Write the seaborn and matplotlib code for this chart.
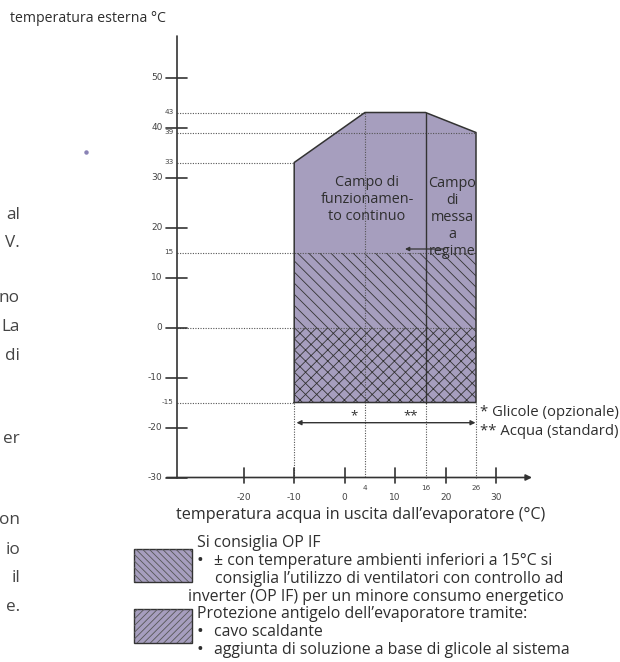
import numpy as np
import pandas as pd
import matplotlib
matplotlib.use("Agg")
import matplotlib.pyplot as plt
import seaborn as sns
from matplotlib.patches import Rectangle

# ---------------- data ----------------
envelope_water = [-10, -10, 4, 16, 26, 26, -10]
envelope_ext = [-15, 33, 43, 43, 39, -15, -15]
ext_major_ticks = [50, 40, 30, 20, 10, 0, -10, -20, -30]
ext_limit_ticks = [43, 39, 33, 15, -15]
water_major_ticks = [-20, -10, 0, 10, 20, 30]
water_limit_ticks = [4, 16, 26]
guide_ext = [43, 39, 33, 15, 0, -15]
guide_end = [4, 26, -10, 26, 26, -10]
opif_band = [0, 15]
antifreeze_band = [-15, 0]
startup_boundary = 16
glycol_range = [-10, 26]
left_fragments = ["al", "V.", "no", "La", "di", "er", "on", "io", "il", "e."]
left_fragment_rows = [215, 243, 298, 327, 356, 439, 520, 550, 578, 607]

# ---------------- style ----------------
sns.set_theme(style="white")
plt.rcParams['font.family'] = ['Open Sans', 'DejaVu Sans']
plt.rcParams['hatch.linewidth'] = 0.6
TXT = '#2e2e2e'
LINE = '#333333'
FILL = '#a69ebe'
NARROW = ['Liberation Sans Narrow', 'DejaVu Sans']

W, H = 620, 662
X0, SX = 344.7, 5.05
Y0, SY = 327.5, 5.0
def px(p):
    return (p - X0) / SX
def py(p):
    return (Y0 - p) / SY

fig = plt.figure(figsize=(W / 100, H / 100), dpi=100)
ax = fig.add_axes([0, 0, 1, 1])
ax.set_xlim(px(0), px(W))
ax.set_ylim(py(H), py(0))
ax.axis('off')

# envelope fill
ax.fill(envelope_water, envelope_ext, color=FILL, lw=0, zorder=1)

# hatched bands
ax.fill_between(glycol_range, opif_band[0], opif_band[1], facecolor='none',
                edgecolor=LINE, lw=0, hatch='\\\\\\', zorder=2)
ax.fill_between(glycol_range, antifreeze_band[0], antifreeze_band[1], facecolor='none',
                edgecolor=LINE, lw=0, hatch='xxx', zorder=2)

# dotted guides
y_axis_x = px(177.3)
dot = dict(color='#555555', lw=0.8, ls=(0, (1, 1.3)), zorder=3)
for yv, xe in zip(guide_ext, guide_end):
    ax.plot([y_axis_x, xe], [yv, yv], **dot)
ax.plot([water_limit_ticks[0]] * 2, [max(envelope_ext), -30], **dot)
for xv in [glycol_range[0], startup_boundary, glycol_range[1]]:
    ax.plot([xv, xv], [min(envelope_ext), -30], **dot)

# envelope outline with seaborn
outline = pd.DataFrame({'water': envelope_water, 'ext': envelope_ext})
sns.lineplot(data=outline, x='water', y='ext', sort=False, estimator=None,
             color=LINE, lw=1.1, ax=ax, zorder=4)
ax.plot([startup_boundary, startup_boundary], [-15, 43], color=LINE, lw=1.0, zorder=4)

# y axis
ax.plot([y_axis_x, y_axis_x], [-30, py(36)], color=LINE, lw=1.2, zorder=4)
for t in ext_major_ticks:
    ax.plot([px(166), px(187)], [t, t], color=LINE, lw=1.2, zorder=4)
    ax.text(px(162.5), t, str(t), ha='right', va='center', fontsize=6.5,
            family=NARROW, color='#444444')
for t in ext_limit_ticks:
    ax.text(px(173.5), t, str(t), ha='right', va='center', fontsize=5.2,
            family=NARROW, color='#444444')

# x axis
ax.annotate('', xy=(px(532), -30), xytext=(px(166.7), -30),
            arrowprops=dict(arrowstyle='-|>', color=LINE, lw=1.2,
                            mutation_scale=9, shrinkA=0, shrinkB=0), zorder=4)
for t in water_major_ticks:
    ax.plot([t, t], [py(468), py(483)], color=LINE, lw=1.2, zorder=4)
    ax.text(t, py(497), str(t), ha='center', va='center', fontsize=6.5,
            family=NARROW, color='#444444')
for t in water_limit_ticks:
    ax.text(t, py(487.5), str(t), ha='center', va='center', fontsize=5.2,
            family=NARROW, color='#444444')

# axis titles
ax.text(px(10), py(19), 'temperatura esterna °C', ha='left', va='center',
        fontsize=10.2, color=TXT)
ax.text(px(361), py(515), 'temperatura acqua in uscita dall’evaporatore (°C)',
        ha='center', va='center', fontsize=11.6, color=TXT)

# region labels
ax.text(px(367), py(199.5), 'Campo di\nfunzionamen-\nto continuo', ha='center',
        va='center', fontsize=10.4, linespacing=1.22, color=TXT, zorder=5)
ax.text(px(452.5), py(217.5), 'Campo\ndi\nmessa\na\nregime', ha='center',
        va='center', fontsize=10.4, linespacing=1.19, color=TXT, zorder=5)
ax.annotate('', xy=(px(405), py(249)), xytext=(px(445), py(249)),
            arrowprops=dict(arrowstyle='-|>', color=LINE, lw=0.9,
                            mutation_scale=6, shrinkA=0, shrinkB=0), zorder=5)

# glycol / water range
ax.annotate('', xy=(px(475.5), py(422.7)), xytext=(px(296.5), py(422.7)),
            arrowprops=dict(arrowstyle='<|-|>', color=LINE, lw=1.0,
                            mutation_scale=7, shrinkA=0, shrinkB=0), zorder=5)
ax.text(px(354), py(416), '*', ha='center', va='center', fontsize=9.5, color=TXT)
ax.text(px(411), py(416), '**', ha='center', va='center', fontsize=9.5, color=TXT)
ax.text(px(480), py(413), '* Glicole (opzionale)', ha='left', va='center',
        fontsize=10.7, color=TXT)
ax.text(px(480), py(431.5), '** Acqua (standard)', ha='left', va='center',
        fontsize=10.7, color=TXT)

# stray dot
ax.plot([px(85.5)], [py(151.5)], 'o', ms=2.2, color='#8a83b5', zorder=5)

# left page fragments
for s, r in zip(left_fragments, left_fragment_rows):
    ax.text(px(20), py(r), s, ha='right', va='center', fontsize=12.3, color='#444444')

# legend boxes
def box(x1, y1, x2, y2, hatch):
    r = Rectangle((px(x1), py(y2)), px(x2) - px(x1), py(y1) - py(y2),
                  facecolor=FILL, edgecolor=LINE, lw=1.0, zorder=3)
    ax.add_patch(r)
    h = Rectangle((px(x1), py(y2)), px(x2) - px(x1), py(y1) - py(y2),
                  facecolor='none', edgecolor='#555555', lw=0, hatch=hatch, zorder=4)
    ax.add_patch(h)
box(134, 549, 192, 582, '\\\\\\\\\\')
box(134, 609, 192, 643, '/////')

legend_lines = [
    (196.7, 543.3, 'Si consiglia OP IF'),
    (214.3, 561, '± con temperature ambienti inferiori a 15°C si'),
    (215, 578.7, 'consiglia l’utilizzo di ventilatori con controllo ad'),
    (188.3, 596.7, 'inverter (OP IF) per un minore consumo energetico'),
    (196.7, 614.3, 'Protezione antigelo dell’evaporatore tramite:'),
    (214.3, 632, 'cavo scaldante'),
    (214.3, 650, 'aggiunta di soluzione a base di glicole al sistema'),
]
for x, y, s in legend_lines:
    ax.text(px(x), py(y), s, ha='left', va='center', fontsize=11.4, color=TXT)
for y in [561, 632, 650]:
    ax.text(px(196.7), py(y), '•', ha='left', va='center', fontsize=13, color=TXT)

fig.savefig('out.png', dpi=100)
